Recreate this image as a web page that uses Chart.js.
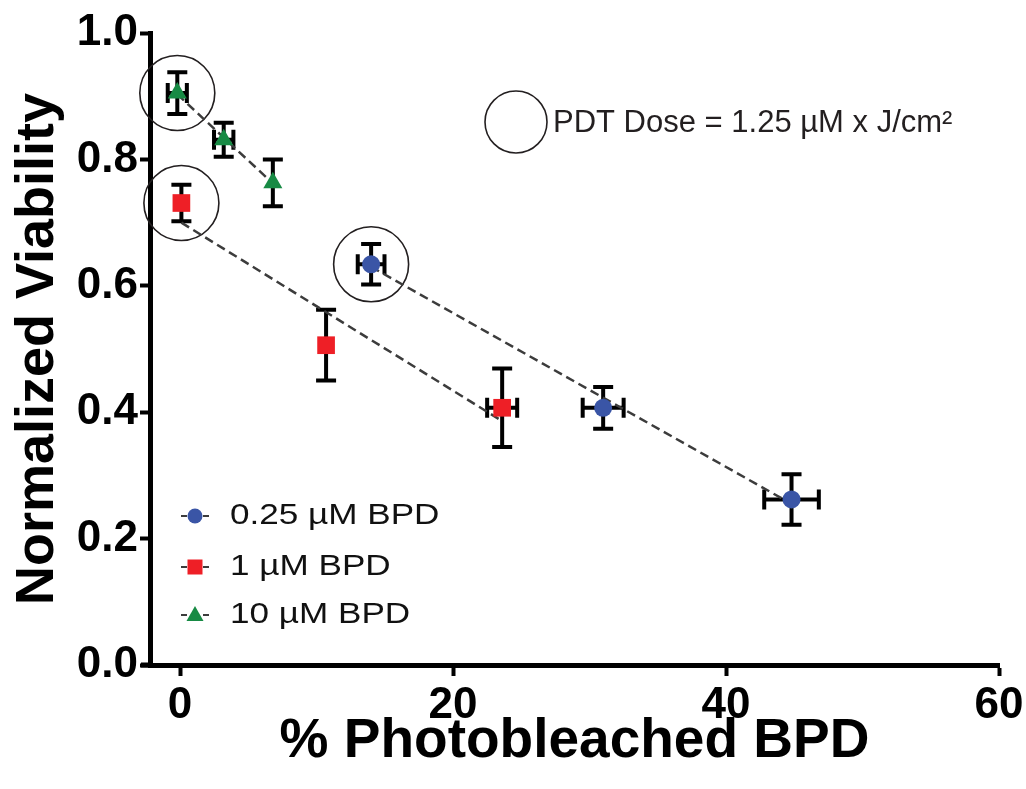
<!DOCTYPE html>
<html>
<head>
<meta charset="utf-8">
<script src="https://cdn.jsdelivr.net/npm/chart.js@4.4.1/dist/chart.umd.min.js"></script>
<style>
  html, body { margin: 0; padding: 0; background: #fff; }
  #wrap { width: 1026px; height: 789px; position: relative; }
</style>
</head>
<body>
<div id="wrap"><canvas id="c"></canvas></div>
<script>
// ---- Data ----
const seriesNames = ['0.25 µM BPD', '1 µM BPD', '10 µM BPD'];

const blueX    = [14.0, 31.0, 44.8];
const blueY    = [0.634, 0.407, 0.262];
const blueXErr = [0.98, 1.5, 2.0];
const blueYErr = [0.032, 0.033, 0.040];

const redX     = [0.1, 10.7, 23.6];
const redY     = [0.731, 0.506, 0.407];
const redXErr  = [0, 0, 1.1];
const redYErr  = [0.029, 0.056, 0.062];

const greenX    = [-0.2, 3.2, 6.8];
const greenY    = [0.905, 0.831, 0.763];
const greenXErr = [0.7, 0.71, 0];
const greenYErr = [0.033, 0.027, 0.037];

// dashed fit lines (end points)
const blueFitX  = [14.0, 44.8];
const blueFitY  = [0.630, 0.255];
const redFitX   = [0.1, 23.6];
const redFitY   = [0.700, 0.386];
const greenFitX = [-0.2, 6.8];
const greenFitY = [0.903, 0.762];

// points highlighted by a circle (PDT dose = 1.25 µM x J/cm²): first point of each series
const circledIndex = 0;

const xTicks = [0, 20, 40, 60];
const yTicks = [0.0, 0.2, 0.4, 0.6, 0.8, 1.0];
const yTickLabels = ['0.0', '0.2', '0.4', '0.6', '0.8', '1.0'];

const xTitle = '% Photobleached BPD';
const yTitle = 'Normalized Viability';
const annotationText = 'PDT Dose = 1.25 µM x J/cm²';

// ---- Styles ----
const BLUE = '#3a55a6', RED = '#ee1f26', GREEN = '#178a44';
const FONT = '"Liberation Sans", Arial, Helvetica, sans-serif';

const pts = (xs, ys) => xs.map((x, i) => ({ x: x, y: ys[i] }));

const series = [
  { name: seriesNames[0], xs: blueX, ys: blueY, xe: blueXErr, ye: blueYErr, color: BLUE, style: 'circle', radius: 9, fx: blueFitX, fy: blueFitY },
  { name: seriesNames[1], xs: redX, ys: redY, xe: redXErr, ye: redYErr, color: RED, style: 'rect', radius: 12.5, fx: redFitX, fy: redFitY },
  { name: seriesNames[2], xs: greenX, ys: greenY, xe: greenXErr, ye: greenYErr, color: GREEN, style: 'triangle', radius: 11, fx: greenFitX, fy: greenFitY }
];

const datasets = [];
series.forEach(s => {
  datasets.push({
    label: s.name,
    data: pts(s.xs, s.ys),
    pointStyle: s.style,
    pointRadius: s.radius,
    pointBackgroundColor: s.color,
    pointBorderColor: s.color,
    pointBorderWidth: 0,
    showLine: false,
    clip: false,
    order: 0
  });
});
series.forEach(s => {
  datasets.push({
    label: s.name + ' fit',
    type: 'line',
    data: pts(s.fx, s.fy),
    borderColor: '#3c3c3c',
    borderWidth: 2.5,
    borderDash: [9, 5],
    pointRadius: 0,
    fill: false,
    clip: false,
    order: 1
  });
});
datasets.push({
  label: 'PDT dose circles',
  data: [
    { x: greenX[circledIndex], y: greenY[circledIndex] },
    { x: redX[circledIndex], y: redY[circledIndex] },
    { x: blueX[circledIndex], y: blueY[circledIndex] }
  ],
  pointStyle: 'circle',
  pointRadius: 37.5,
  pointBackgroundColor: 'rgba(0,0,0,0)',
  pointBorderColor: '#231f20',
  pointBorderWidth: 1.6,
  showLine: false,
  clip: false,
  order: 2
});

const errorBars = {
  id: 'errorBars',
  beforeDatasetsDraw(chart) {
    const ctx = chart.ctx, xs = chart.scales.x, ys = chart.scales.y;
    ctx.save();
    // small stub of the x axis to the left of the y axis
    ctx.fillStyle = '#000';
    ctx.fillRect(chart.chartArea.left - 9, chart.chartArea.bottom - 2.5, 9, 5);
    ctx.strokeStyle = '#000';
    ctx.lineWidth = 4;
    ctx.lineCap = 'butt';
    const cap = 10;
    series.forEach(s => {
      s.xs.forEach((xv, i) => {
        const px = xs.getPixelForValue(xv), py = ys.getPixelForValue(s.ys[i]);
        if (s.ye[i] > 0) {
          const t = ys.getPixelForValue(s.ys[i] + s.ye[i]);
          const b = ys.getPixelForValue(s.ys[i] - s.ye[i]);
          ctx.beginPath();
          ctx.moveTo(px, t); ctx.lineTo(px, b);
          ctx.moveTo(px - cap, t); ctx.lineTo(px + cap, t);
          ctx.moveTo(px - cap, b); ctx.lineTo(px + cap, b);
          ctx.stroke();
        }
        if (s.xe[i] > 0) {
          const l = xs.getPixelForValue(xv - s.xe[i]);
          const r = xs.getPixelForValue(xv + s.xe[i]);
          ctx.beginPath();
          ctx.moveTo(l, py); ctx.lineTo(r, py);
          ctx.moveTo(l, py - cap); ctx.lineTo(l, py + cap);
          ctx.moveTo(r, py - cap); ctx.lineTo(r, py + cap);
          ctx.stroke();
        }
      });
    });
    ctx.restore();
  }
};

function drawMarker(ctx, style, x, y, color) {
  ctx.fillStyle = color;
  ctx.beginPath();
  if (style === 'circle') {
    ctx.arc(x, y, 7.5, 0, Math.PI * 2);
  } else if (style === 'rect') {
    ctx.rect(x - 7.5, y - 7.5, 15, 15);
  } else {
    ctx.moveTo(x, y - 9);
    ctx.lineTo(x + 8.5, y + 6);
    ctx.lineTo(x - 8.5, y + 6);
    ctx.closePath();
  }
  ctx.fill();
}

const legendAndNote = {
  id: 'legendAndNote',
  afterDraw(chart) {
    const ctx = chart.ctx;
    ctx.save();
    // legend
    const rowsY = [516, 567, 615];
    series.forEach((s, i) => {
      const y = rowsY[i];
      ctx.strokeStyle = '#3c3c3c';
      ctx.lineWidth = 2;
      ctx.setLineDash([]);
      ctx.beginPath();
      ctx.moveTo(181, y); ctx.lineTo(187, y);
      ctx.moveTo(203, y); ctx.lineTo(209, y);
      ctx.stroke();
      drawMarker(ctx, s.style, 195, y, s.color);
      ctx.fillStyle = '#111';
      ctx.font = '30px ' + FONT;
      ctx.textBaseline = 'middle';
      ctx.textAlign = 'left';
      ctx.save();
      ctx.translate(230, y);
      ctx.scale(1.17, 1);
      ctx.fillText(s.name, 0, 0);
      ctx.restore();
    });
    // PDT dose key
    ctx.strokeStyle = '#231f20';
    ctx.lineWidth = 1.6;
    ctx.beginPath();
    ctx.arc(516, 122, 31, 0, Math.PI * 2);
    ctx.stroke();
    ctx.fillStyle = '#231f20';
    ctx.font = '31px ' + FONT;
    ctx.textBaseline = 'middle';
    ctx.textAlign = 'left';
    ctx.fillText(annotationText, 553, 123);
    ctx.restore();
  }
};

new Chart(document.getElementById('c'), {
  type: 'scatter',
  data: { datasets: datasets },
  plugins: [errorBars, legendAndNote],
  options: {
    responsive: true,
    maintainAspectRatio: false,
    animation: false,
    events: [],
    layout: { autoPadding: false, padding: { top: 33, right: 27, bottom: 0, left: 0 } },
    plugins: { legend: { display: false }, tooltip: { enabled: false } },
    scales: {
      x: {
        type: 'linear',
        min: -2.2,
        max: 60,
        afterBuildTicks: s => { s.ticks = xTicks.map(v => ({ value: v })); },
        afterFit: s => { s.height = 124; s.paddingLeft = 0; s.paddingRight = 0; },
        border: { display: true, color: '#000', width: 5 },
        grid: { display: true, drawOnChartArea: false, drawTicks: true, tickLength: 11, tickWidth: 4, tickColor: '#000' },
        ticks: {
          color: '#000', padding: 3, maxRotation: 0, autoSkip: false,
          font: { family: FONT, size: 44, weight: 'bold' },
          callback: v => String(v)
        },
        title: {
          display: true, text: xTitle, color: '#000',
          font: { family: FONT, size: 55, weight: 'bold' },
          padding: { top: 0, bottom: 14 }
        }
      },
      y: {
        type: 'linear',
        min: 0,
        max: 1,
        afterBuildTicks: s => { s.ticks = yTicks.map(v => ({ value: v })); },
        afterFit: s => { s.width = 150; s.paddingTop = 0; s.paddingBottom = 0; },
        border: { display: true, color: '#000', width: 5 },
        grid: { display: true, drawOnChartArea: false, drawTicks: true, tickLength: 10, tickWidth: 4, tickColor: '#000' },
        ticks: {
          color: '#000', padding: 2, autoSkip: false,
          font: { family: FONT, size: 44, weight: 'bold' },
          callback: (v) => { const i = yTicks.findIndex(t => Math.abs(t - v) < 1e-9); return i >= 0 ? yTickLabels[i] : ''; }
        },
        title: {
          display: true, text: yTitle, color: '#000',
          font: { family: FONT, size: 54, weight: 'bold' },
          padding: { top: 6, bottom: 0 }
        }
      }
    }
  }
});
</script>
</body>
</html>
